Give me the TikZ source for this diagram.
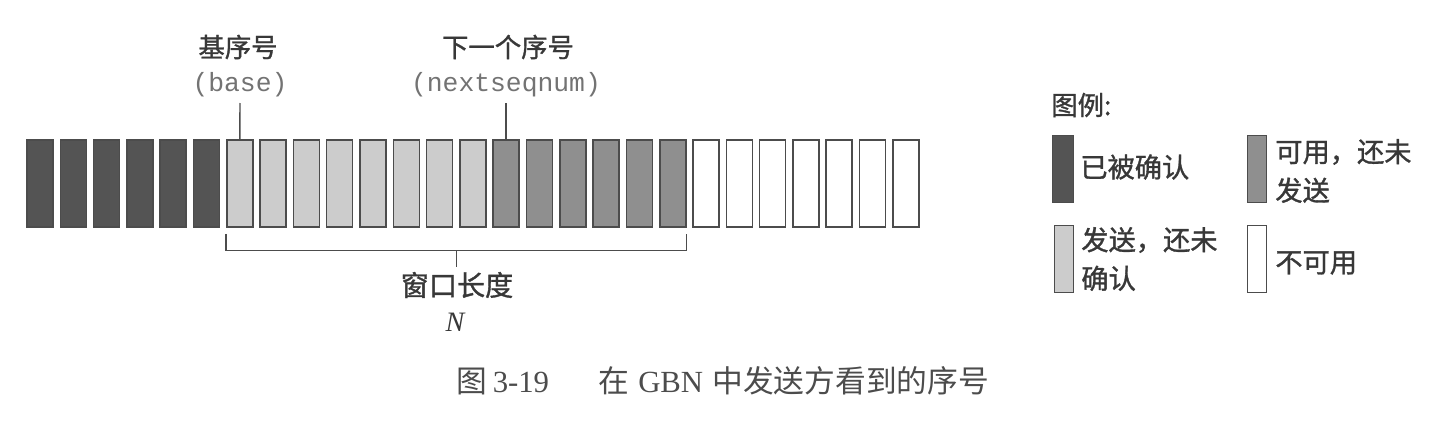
\documentclass[tikz,border=0pt]{standalone}
\usepackage{fontspec}
\setmainfont{Liberation Serif}
\newfontfamily\cjk{Noto Sans CJK SC}
\newfontfamily\cjkb[FakeBold=1.2]{Noto Sans CJK SC}
\newfontfamily\codefont{Liberation Mono}
\usetikzlibrary{calc,positioning}

\definecolor{ackcol}{gray}{0.33}
\definecolor{usablecol}{gray}{0.56}
\definecolor{sentcol}{gray}{0.80}
\definecolor{edgecol}{gray}{0.30}
\definecolor{inkcol}{gray}{0.22}

\tikzset{
  seqbox/.style={draw=edgecol, line width=0.9pt, minimum width=0.52cm, minimum height=1.74cm, inner sep=0pt},
  keybox/.style={draw=edgecol, line width=0.9pt, minimum width=0.38cm, minimum height=1.34cm, inner sep=0pt},
  head/.style={font=\cjkb\fontsize{15}{18}\selectfont, text=inkcol, inner sep=0pt},
  code/.style={font=\codefont\fontsize{15}{18}\selectfont, text=black!55, inner sep=0pt},
  keytext/.style={font=\cjkb\fontsize{15.5}{22}\selectfont, text=inkcol, inner sep=0pt, align=left, anchor=west},
  thin/.style={draw=edgecol, line width=0.8pt}
}

\begin{document}
\begin{tikzpicture}[x=0.02cm, y=-0.02cm]
  \useasboundingbox (0,0) rectangle (1452,426);

  %%%%% sequence numbers %%%%%
  \foreach \i in {1,...,6}
    \node[seqbox, fill=ackcol] (b\i) at ({40+(\i-1)*33.3}, 183.5) {};
  \foreach \i in {7,...,14}
    \node[seqbox, fill=sentcol] (b\i) at ({40+(\i-1)*33.3}, 183.5) {};
  \foreach \i in {15,...,20}
    \node[seqbox, fill=usablecol] (b\i) at ({40+(\i-1)*33.3}, 183.5) {};
  \foreach \i in {21,...,27}
    \node[seqbox, fill=white] (b\i) at ({40+(\i-1)*33.3}, 183.5) {};

  %%%%% pointers %%%%%
  \node[head] (basename) at (238, 47) {基序号};
  \node[code] (basevar) at (240, 85) {(base)};
  \draw[thin] (240, 103) -- (b7.north);

  \node[head] (nextname) at (508, 47) {下一个序号};
  \node[code] (nextvar) at (506, 85) {(nextseqnum)};
  \draw[thin] (506, 103) -- (506, 140);

  %%%%% window %%%%%
  \coordinate (wl) at ($(b7.south west)+(0,6)$);
  \coordinate (wr) at ($(b20.south east)+(0,6)$);
  \draw[thin] (wl) -- ++(0,17) -| (wr);
  \coordinate (wm) at ($(wl)!0.5!(wr)+(0,17)$);
  \node[head, font=\cjkb\fontsize{16}{18}\selectfont] (winname) at (457, 285) {窗口长度};
  \node[font=\itshape\fontsize{16}{18}\selectfont, text=inkcol, inner sep=0pt] (winN) at (455, 322) {N};
  \draw[thin] (wm) -- ++(0,16);

  %%%%% legend %%%%%
  \node[head, anchor=west] (keyname) at (1051, 105) {图例:};
  \node[keybox, fill=ackcol, minimum width=0.42cm] (kack) at (1063, 169) {};
  \node[keytext] (tack) at (1080, 167) {已被确认};
  \node[keybox, fill=usablecol] (kuse) at (1257, 169) {};
  \node[keytext] (tuse) at (1275, 171) {可用，还未\\发送};
  \node[keybox, fill=sentcol] (ksent) at (1064, 259) {};
  \node[keytext] (tsent) at (1081, 259) {发送，还未\\确认};
  \node[keybox, fill=white] (knone) at (1257, 259) {};
  \node[keytext] (tnone) at (1275, 263) {不可用};

  %%%%% caption %%%%%
  \node[font=\fontsize{17.5}{20}\selectfont, text=black!70, inner sep=0pt] (cap) at (723, 381)
    {{\cjk 图}\,3-19\hspace{1.6em}{\cjk 在}\hspace{0.3em}GBN\hspace{0.3em}{\cjk 中发送方看到的序号}};
\end{tikzpicture}
\end{document}
